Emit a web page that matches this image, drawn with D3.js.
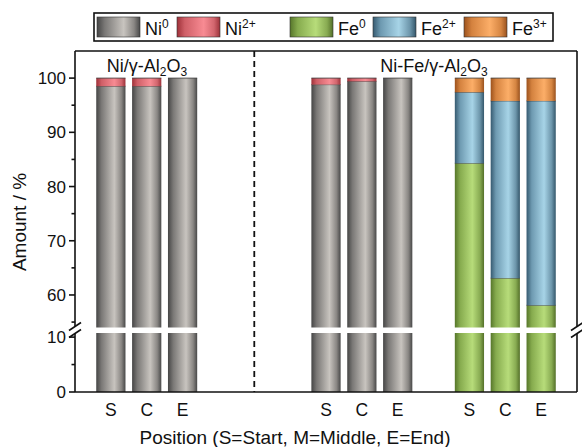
<!DOCTYPE html>
<html>
<head>
<meta charset="utf-8">
<script src="https://cdn.jsdelivr.net/npm/d3@7"></script>
<style>
  html, body { margin: 0; padding: 0; background: #fff; }
  svg { display: block; font-family: "Liberation Sans", Arial, sans-serif; }
</style>
</head>
<body>
<svg id="chart" width="582" height="447"></svg>
<script>
// Sample positions along the reactor
const positions = ["S", "C", "E"];
const panelTitles = ["Ni/γ-Al2O3", "Ni-Fe/γ-Al2O3"];

// Species shares (%) per position
const niAl_Ni0   = [98.5, 98.5, 100];
const niAl_Ni2   = [1.5, 1.5, 0];
const niFe_Ni0   = [98.8, 99.4, 100];
const niFe_Ni2   = [1.2, 0.6, 0];
const niFe_Fe0   = [84.3, 63.1, 58.1];
const niFe_Fe2   = [13.1, 32.7, 37.7];
const niFe_Fe3   = [2.6, 4.2, 4.2];

// Slot index of each bar group on the x axis
const groupSlots = [1, 7, 11];
const dividerSlot = 5;

// Y tick labels for both axis segments
const upperTicks = [60, 70, 80, 90, 100];
const upperMinor = [55, 65, 75, 85, 95];
const lowerTicks = [0, 10];
const lowerMinor = [5];

const speciesKeys = ["Ni0", "Ni2", "Fe0", "Fe2", "Fe3"];
const legendLabels = [["Ni", "0"], ["Ni", "2+"], ["Fe", "0"], ["Fe", "2+"], ["Fe", "3+"]];

const gradStops = {
  Ni0: [["0%", "#454545"], ["18%", "#7a7876"], ["62%", "#c8c4bf"], ["86%", "#8a8784"], ["100%", "#484848"]],
  Ni2: [["0%", "#9e3038"], ["18%", "#cf5f67"], ["62%", "#f88b93"], ["86%", "#d2666e"], ["100%", "#9c323a"]],
  Fe0: [["0%", "#56762a"], ["18%", "#86ab4e"], ["60%", "#b7dc7a"], ["86%", "#88ab52"], ["100%", "#547029"]],
  Fe2: [["0%", "#365a70"], ["18%", "#6e9ab1"], ["60%", "#a7d4e7"], ["86%", "#6c95aa"], ["100%", "#34576b"]],
  Fe3: [["0%", "#9c521d"], ["18%", "#d4823f"], ["60%", "#fcae68"], ["86%", "#d58542"], ["100%", "#9a521e"]]
};

// Build stacked records
const bars = [];
function addStack(slot, keys, arrays) {
  positions.forEach((p, i) => {
    let base = 0;
    keys.forEach((k, j) => {
      const v = arrays[j][i];
      if (v > 0) bars.push({ slot: slot + i, key: k, y0: base, y1: base + v });
      base += v;
    });
  });
}
addStack(groupSlots[0], ["Ni0", "Ni2"], [niAl_Ni0, niAl_Ni2]);
addStack(groupSlots[1], ["Ni0", "Ni2"], [niFe_Ni0, niFe_Ni2]);
addStack(groupSlots[2], ["Fe0", "Fe2", "Fe3"], [niFe_Fe0, niFe_Fe2, niFe_Fe3]);

const svg = d3.select("#chart");
const L = 75, R = 577, T = 51, B = 392;
const slotCount = 15;
const step = (R - L) / (slotCount - 1);

const x = d3.scaleBand()
  .domain(d3.range(slotCount))
  .range([L - step / 2, R + step / 2])
  .paddingInner(0.185)
  .paddingOuter(0.0925);
const cx = s => x(s) + x.bandwidth() / 2;

// Broken y axis: upper and lower segments
const yUp = d3.scaleLinear().domain([54, 105]).range([327.5, T]);
const yLo = d3.scaleLinear().domain([0, 10.75]).range([B, 333]);

const defs = svg.append("defs");
speciesKeys.forEach(k => {
  const g = defs.append("linearGradient").attr("id", "g-" + k)
    .attr("x1", "0").attr("x2", "1").attr("y1", "0").attr("y2", "0");
  gradStops[k].forEach(s => g.append("stop").attr("offset", s[0]).attr("stop-color", s[1]));
});

// Bars, drawn once per axis segment
function drawSegment(scale) {
  const [d0, d1] = scale.domain();
  const g = svg.append("g");
  bars.forEach(b => {
    const a = Math.max(b.y0, d0), c = Math.min(b.y1, d1);
    if (c <= a) return;
    g.append("rect")
      .attr("x", x(b.slot))
      .attr("width", x.bandwidth())
      .attr("y", scale(c))
      .attr("height", scale(a) - scale(c))
      .attr("fill", "url(#g-" + b.key + ")");
    if (b.y1 <= d1) {
      g.append("line")
        .attr("x1", x(b.slot)).attr("x2", x(b.slot) + x.bandwidth())
        .attr("y1", scale(b.y1)).attr("y2", scale(b.y1))
        .attr("stroke", "#2a2a2a").attr("stroke-width", 0.9).attr("stroke-opacity", 0.85);
    }
  });
}
drawSegment(yUp);
drawSegment(yLo);

// Frame: top and right lines, bottom axis
const frame = svg.append("g").attr("stroke", "#111").attr("fill", "none").attr("stroke-width", 1.6);
frame.append("line").attr("x1", L).attr("x2", R).attr("y1", T).attr("y2", T);
frame.append("line").attr("x1", L).attr("x2", R).attr("y1", B).attr("y2", B);
frame.append("line").attr("x1", R).attr("x2", R).attr("y1", T).attr("y2", 326);
frame.append("line").attr("x1", R).attr("x2", R).attr("y1", 334).attr("y2", B);
frame.append("line").attr("x1", L).attr("x2", L).attr("y1", T).attr("y2", 326);
frame.append("line").attr("x1", L).attr("x2", L).attr("y1", 334).attr("y2", B);

// Break marks on both vertical axes
[L, R].forEach(xx => {
  [-3.5, 3.5].forEach(dy => {
    svg.append("line")
      .attr("x1", xx - 6).attr("y1", 330 + dy + 4)
      .attr("x2", xx + 6).attr("y2", 330 + dy - 4)
      .attr("stroke", "#111").attr("stroke-width", 1.6);
  });
});

// Y tick marks and labels
function ticks(scale, major, minor) {
  const g = svg.append("g");
  major.forEach(v => {
    g.append("line").attr("x1", L - 6).attr("x2", L).attr("y1", scale(v)).attr("y2", scale(v))
      .attr("stroke", "#111").attr("stroke-width", 1.6);
    g.append("text").attr("x", L - 9).attr("y", scale(v)).attr("dy", "0.36em")
      .attr("text-anchor", "end").attr("font-size", 17).attr("fill", "#111").text(v);
  });
  minor.forEach(v => {
    g.append("line").attr("x1", L - 3.5).attr("x2", L).attr("y1", scale(v)).attr("y2", scale(v))
      .attr("stroke", "#111").attr("stroke-width", 1.6);
  });
}
ticks(yUp, upperTicks, upperMinor);
ticks(yLo, lowerTicks, lowerMinor);

// Category labels
groupSlots.forEach(s => {
  positions.forEach((p, i) => {
    svg.append("text")
      .attr("x", cx(s + i)).attr("y", 416)
      .attr("text-anchor", "middle").attr("font-size", 17.5).attr("fill", "#111").text(p);
  });
});

// Divider between the two catalysts
svg.append("line")
  .attr("x1", cx(dividerSlot)).attr("x2", cx(dividerSlot))
  .attr("y1", T).attr("y2", B)
  .attr("stroke", "#111").attr("stroke-width", 1.8).attr("stroke-dasharray", "6,4");

// Panel titles with subscripts
function formulaTitle(px, py, label) {
  const t = svg.append("text").attr("x", px).attr("y", py).attr("text-anchor", "middle")
    .attr("font-size", 18).attr("fill", "#111");
  const m = label.match(/^(.*Al)2O3$/);
  t.append("tspan").text(m[1]);
  t.append("tspan").attr("font-size", 12).attr("dy", 4).text("2");
  t.append("tspan").attr("dy", -4).text("O");
  t.append("tspan").attr("font-size", 12).attr("dy", 4).text("3");
}
formulaTitle(147, 72, panelTitles[0]);
formulaTitle(434, 72, panelTitles[1]);

// Axis titles
svg.append("text").attr("transform", "translate(26,222) rotate(-90)")
  .attr("text-anchor", "middle").attr("font-size", 19).attr("fill", "#111").text("Amount / %");
svg.append("text").attr("x", 295).attr("y", 444)
  .attr("text-anchor", "middle").attr("font-size", 19).attr("fill", "#111")
  .text("Position (S=Start, M=Middle, E=End)");

// Legend
const lg = svg.append("g");
lg.append("rect").attr("x", 94).attr("y", 13).attr("width", 459).attr("height", 28)
  .attr("fill", "#fff").attr("stroke", "#111").attr("stroke-width", 1.6);
const swatchX = [97, 177, 290, 373, 464];
speciesKeys.forEach((k, i) => {
  lg.append("rect").attr("x", swatchX[i]).attr("y", 17).attr("width", 43).attr("height", 20)
    .attr("fill", "url(#g-" + k + ")").attr("stroke", "#333").attr("stroke-width", 0.6);
  const t = lg.append("text").attr("x", swatchX[i] + 48).attr("y", 35)
    .attr("font-size", 18).attr("fill", "#111");
  t.append("tspan").text(legendLabels[i][0]);
  t.append("tspan").attr("font-size", 12).attr("dy", -7).text(legendLabels[i][1]);
});
</script>
</body>
</html>
